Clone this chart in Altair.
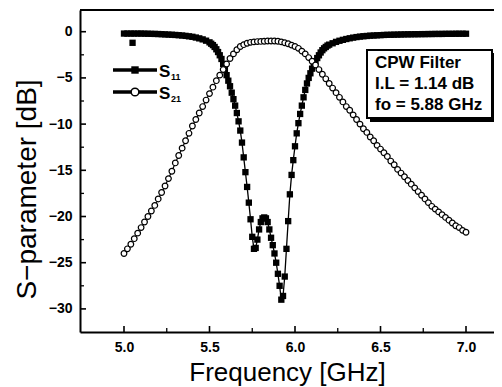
import altair as alt
import pandas as pd

# ---------------- data ----------------
# S21 (open circles), sweep 5.00 .. 7.00 GHz every 0.02 GHz
s21_freq = [round(5.00 + 0.02 * i, 2) for i in range(101)]
s21_db = [
    -24.0, -23.5, -23.0, -22.4, -21.8, -21.2, -20.6, -20.0, -19.4, -18.8,
    -18.1, -17.4, -16.7, -15.9, -15.1, -14.2, -13.4, -12.6, -11.8, -11.0,
    -10.2, -9.5, -8.8, -8.1, -7.4, -6.7, -6.0, -5.3, -4.7, -4.1,
    -3.5, -2.9, -2.4, -1.95, -1.6, -1.4, -1.25, -1.15, -1.1, -1.07,
    -1.05, -1.03, -1.0, -1.0, -1.0, -1.03, -1.1, -1.2, -1.3, -1.45,
    -1.6, -1.8, -2.1, -2.4, -2.8, -3.2, -3.6, -4.1, -4.6, -5.1,
    -5.6, -6.1, -6.6, -7.1, -7.6, -8.1, -8.5, -9.0, -9.5, -10.0,
    -10.5, -10.9, -11.4, -11.8, -12.3, -12.7, -13.1, -13.5, -14.0, -14.4,
    -14.9, -15.3, -15.7, -16.1, -16.5, -16.9, -17.3, -17.7, -18.1, -18.5,
    -18.9, -19.2, -19.5, -19.8, -20.1, -20.4, -20.7, -21.0, -21.2, -21.5,
    -21.7,
]

# S11 (filled squares): 5.00-5.48 every 0.02, 5.50-6.20 every 0.01, 6.22-7.00 every 0.02
s11_freq = ([round(5.00 + 0.02 * i, 2) for i in range(25)]
            + [round(5.50 + 0.01 * i, 2) for i in range(71)]
            + [round(6.22 + 0.02 * i, 2) for i in range(40)])
s11_db = [
    # 5.00 - 5.48
    -0.2, -0.2, -0.2, -0.2, -0.2, -0.2, -0.21, -0.22, -0.23, -0.24,
    -0.25, -0.27, -0.29, -0.31, -0.33, -0.35, -0.38, -0.41, -0.45, -0.5,
    -0.55, -0.63, -0.72, -0.83, -0.97,
    # 5.50 - 6.20
    -1.15, -1.3, -1.45, -1.65, -1.9, -2.2, -2.55, -2.95, -3.5, -4.1,
    -4.7, -5.3, -5.9, -6.6, -7.3, -8.0, -8.8, -9.7, -10.7, -12.0,
    -13.6, -15.2, -16.8, -18.5, -20.3, -22.2, -23.5, -23.4, -22.5, -21.4,
    -20.6, -20.2, -20.1, -20.2, -20.6, -21.4, -22.3, -23.1, -24.0, -25.0,
    -26.2, -27.5, -29.0, -28.6, -26.5, -23.5, -20.5, -17.6, -15.5, -13.9,
    -12.4, -11.0, -9.9, -8.9, -8.0, -7.1, -6.3, -5.6, -5.0, -4.5,
    -4.0, -3.6, -3.2, -2.85, -2.55, -2.25, -2.0, -1.8, -1.65, -1.5,
    -1.4,
    # 6.22 - 7.00
    -1.25, -1.1, -0.98, -0.88, -0.79, -0.71, -0.64, -0.58, -0.53, -0.49,
    -0.46, -0.43, -0.41, -0.39, -0.37, -0.35, -0.34, -0.33, -0.32, -0.31,
    -0.3, -0.29, -0.28, -0.28, -0.27, -0.27, -0.26, -0.26, -0.25, -0.25,
    -0.24, -0.24, -0.24, -0.23, -0.23, -0.23, -0.22, -0.22, -0.22, -0.22,
]
# stray S11 sample below the trace
s11_stray_freq = [5.05]
s11_stray_db = [-1.2]

x_major = [5.0, 5.5, 6.0, 6.5, 7.0]
x_minor = [5.25, 5.75, 6.25, 6.75]
y_major = [0, -5, -10, -15, -20, -25, -30]
y_minor = [-2.5, -7.5, -12.5, -17.5, -22.5, -27.5]

legend_labels = ["S", "S"]
legend_subs = ["11", "21"]
box_lines = ["CPW Filter", "I.L = 1.14 dB", "fo = 5.88 GHz"]

assert len(s21_freq) == len(s21_db)
assert len(s11_freq) == len(s11_db)

# ---------------- layout ----------------
W, H = 414, 322
XDOM = [4.7427, 7.1637]
YDOM = [-32.5, 2.35]
FONT = "Liberation Sans"

xs = alt.Scale(domain=XDOM, nice=False, zero=False)
ys = alt.Scale(domain=YDOM, nice=False, zero=False)

AX_COMMON = dict(grid=False, ticks=False, domainColor="black", domainWidth=2,
                 labelFont=FONT, labelFontWeight="bold", labelFontSize=14,
                 labelColor="black", titleFont=FONT, titleFontWeight="normal",
                 titleColor="black")

X_AXIS = alt.Axis(values=x_major, format=".1f", title="Frequency [GHz]",
                  titleY=48, titleBaseline="alphabetic", titleFontSize=26,
                  labelPadding=8, **AX_COMMON)
Y_AXIS = alt.Axis(values=y_major, format="d", title="S\u2212parameter [dB]",
                  titleX=-45, titleY=179, titleBaseline="alphabetic",
                  titleAlign="center", titleAngle=270, titleFontSize=28,
                  labelPadding=8, **AX_COMMON)


def XE(field="f"):
    return alt.X(f"{field}:Q", scale=xs, axis=X_AXIS, title="Frequency [GHz]")


def YE(field="db"):
    return alt.Y(f"{field}:Q", scale=ys, axis=Y_AXIS, title="S\u2212parameter [dB]")


df11 = pd.DataFrame({"f": s11_freq, "db": s11_db})
df21 = pd.DataFrame({"f": s21_freq, "db": s21_db})
dfst = pd.DataFrame({"f": s11_stray_freq, "db": s11_stray_db})
one = pd.DataFrame({"a": [0]})

s11_line = alt.Chart(df11).mark_line(color="black", strokeWidth=1.3).encode(x=XE(), y=YE())
s11_pts = alt.Chart(df11).mark_point(shape="square", filled=True, color="black",
                                     size=40, opacity=1).encode(x=XE(), y=YE())
s11_stray = alt.Chart(dfst).mark_point(shape="square", filled=True, color="black",
                                       size=40, opacity=1).encode(x=XE(), y=YE())
s21_line = alt.Chart(df21).mark_line(color="black", strokeWidth=1.2).encode(x=XE(), y=YE())
s21_pts = alt.Chart(df21).mark_point(shape="circle", filled=True, fill="white",
                                     stroke="black", strokeWidth=1.2, size=32,
                                     opacity=1).encode(x=XE(), y=YE())

# inward ticks
xmaj = alt.Chart(pd.DataFrame({"f": x_major})).mark_rule(color="black", strokeWidth=1.6).encode(
    x=XE(), y=alt.value(H), y2=alt.value(H - 6))
xmin = alt.Chart(pd.DataFrame({"f": x_minor})).mark_rule(color="black", strokeWidth=1.3).encode(
    x=XE(), y=alt.value(H), y2=alt.value(H - 4))
ymaj = alt.Chart(pd.DataFrame({"db": y_major})).mark_rule(color="black", strokeWidth=1.6).encode(
    y=YE(), x=alt.value(0), x2=alt.value(6))
ymin = alt.Chart(pd.DataFrame({"db": y_minor})).mark_rule(color="black", strokeWidth=1.3).encode(
    y=YE(), x=alt.value(0), x2=alt.value(4))
top_line = alt.Chart(one).mark_rule(color="black", strokeWidth=2).encode(
    x=alt.value(0), x2=alt.value(W), y=alt.value(0))

# legend
leg = []
for i, (lab, sub) in enumerate(zip(legend_labels, legend_subs)):
    yy = 60 + 22 * i
    leg.append(alt.Chart(one).mark_rule(color="black", strokeWidth=3.5).encode(
        x=alt.value(33), x2=alt.value(77), y=alt.value(yy)))
    if i == 0:
        leg.append(alt.Chart(one).mark_point(shape="square", filled=True, color="black",
                                             size=55, opacity=1).encode(
            x=alt.value(55), y=alt.value(yy)))
    else:
        leg.append(alt.Chart(one).mark_point(shape="circle", filled=True, fill="white",
                                             stroke="black", strokeWidth=1.5, size=60,
                                             opacity=1).encode(
            x=alt.value(55), y=alt.value(yy)))
    leg.append(alt.Chart(one).mark_text(text=lab, font=FONT, fontSize=17, fontWeight="bold",
                                        align="left", baseline="alphabetic", color="black").encode(
        x=alt.value(79), y=alt.value(yy + 7)))
    leg.append(alt.Chart(one).mark_text(text=sub, font=FONT, fontSize=9, fontWeight="bold",
                                        align="left", baseline="alphabetic", color="black").encode(
        x=alt.value(91), y=alt.value(yy + 10)))

# annotation box with drop shadow
bx0, by0, bx1, by1 = 287, 40, 412, 108
shadow = alt.Chart(one).mark_rect(color="black").encode(
    x=alt.value(bx0 + 3), x2=alt.value(bx1 + 3), y=alt.value(by0 + 3), y2=alt.value(by1 + 4))
box = alt.Chart(one).mark_rect(fill="white", stroke="black", strokeWidth=2).encode(
    x=alt.value(bx0), x2=alt.value(bx1), y=alt.value(by0), y2=alt.value(by1))
box_txt = [
    alt.Chart(one).mark_text(text=t, font=FONT, fontSize=17, fontWeight="bold",
                             align="left", baseline="alphabetic", color="black").encode(
        x=alt.value(bx0 + 8), y=alt.value(by0 + 18 + 21 * k))
    for k, t in enumerate(box_lines)
]

chart = alt.layer(
    s11_line, s11_pts, s11_stray, s21_line, s21_pts,
    xmaj, xmin, ymaj, ymin, top_line,
    *leg, shadow, box, *box_txt,
).properties(
    width=W, height=H,
    background="white",
    autosize=alt.AutoSizeParams(type="none"),
    padding={"left": 72, "top": 2, "right": 0, "bottom": 55},
).configure_view(stroke=None)

chart.save("out.html", embed_options={"renderer": "svg", "actions": False})
